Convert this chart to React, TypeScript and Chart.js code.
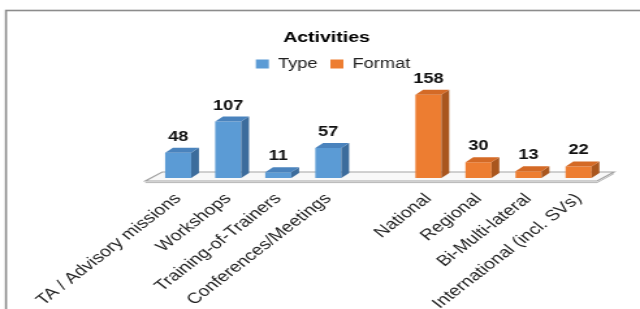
import React, { useEffect, useRef } from 'react';
import { Chart, registerables } from 'chart.js';

Chart.register(...registerables);

const chartTitle = 'Activities';
const seriesNames = ['Type', 'Format'];
const categories = [
  'TA / Advisory missions',
  'Workshops',
  'Training-of-Trainers',
  'Conferences/Meetings',
  '',
  'National',
  'Regional',
  'Bi-Multi-lateral',
  'International (incl. SVs)',
];
const typeValues = [48, 107, 11, 57, null, null, null, null, null];
const formatValues = [null, null, null, null, null, 158, 30, 13, 22];

const FONT = '"Liberation Sans", Arial, sans-serif';
const STRETCH = 1.3;
const W = 640;
const H = 309;
const IW = Math.round(W / STRETCH);
const DX = 6;
const DY = 5;

const shades = [
  { front: '#5B9BD5', top: '#4A83BD', side: '#3C6C9C' },
  { front: '#ED7D31', top: '#D46A26', side: '#A9561E' },
];

const framePlugin = {
  id: 'frame',
  afterLayout(chart: any) {
    if (chart.legend) {
      chart.legend.left += 5;
      chart.legend.right += 5;
    }
  },
  beforeDraw(chart: any) {
    const ctx = chart.ctx;
    ctx.save();
    ctx.fillStyle = '#ffffff';
    ctx.fillRect(0, 0, chart.width, chart.height);
    ctx.strokeStyle = '#8c8c8c';
    ctx.lineWidth = 1.6;
    ctx.strokeRect(4.6, 10.5, chart.width + 20, chart.height + 20);
    ctx.restore();
  },
};

const floorPlugin = {
  id: 'floor3d',
  beforeDatasetsDraw(chart: any) {
    const { ctx, chartArea: a, scales } = chart;
    const base = scales.y.getPixelForValue(0);
    ctx.save();
    ctx.beginPath();
    ctx.moveTo(a.left - 6, base + 3);
    ctx.lineTo(a.right - 5, base + 3);
    ctx.lineTo(a.right + 8, base - 6);
    ctx.lineTo(a.left + 7, base - 6);
    ctx.closePath();
    ctx.fillStyle = '#f8f8f8';
    ctx.fill();
    ctx.strokeStyle = '#a3a3a3';
    ctx.lineWidth = 1.2;
    ctx.stroke();
    ctx.beginPath();
    ctx.moveTo(a.left - 6, base + 4.6);
    ctx.lineTo(a.right - 5, base + 4.6);
    ctx.lineTo(a.right + 8, base - 4.4);
    ctx.strokeStyle = '#b5b5b5';
    ctx.lineWidth = 1;
    ctx.stroke();
    ctx.restore();
  },
};

const bar3dPlugin = {
  id: 'bar3d',
  afterDatasetsDraw(chart: any) {
    const ctx = chart.ctx;
    ctx.save();
    chart.data.datasets.forEach((ds: any, di: number) => {
      const meta = chart.getDatasetMeta(di);
      const c = shades[di];
      meta.data.forEach((el: any, i: number) => {
        const v = ds.data[i];
        if (v === null || v === undefined) return;
        const { x, y, base, width } = el.getProps(['x', 'y', 'base', 'width'], true);
        const l = x - width / 2;
        const r = x + width / 2;
        ctx.fillStyle = c.side;
        ctx.beginPath();
        ctx.moveTo(r, y);
        ctx.lineTo(r + DX, y - DY);
        ctx.lineTo(r + DX, base - DY);
        ctx.lineTo(r, base);
        ctx.closePath();
        ctx.fill();
        ctx.fillStyle = c.top;
        ctx.beginPath();
        ctx.moveTo(l, y);
        ctx.lineTo(l + DX, y - DY);
        ctx.lineTo(r + DX, y - DY);
        ctx.lineTo(r, y);
        ctx.closePath();
        ctx.fill();
        ctx.fillStyle = '#111111';
        ctx.font = `bold 14px ${FONT}`;
        ctx.textAlign = 'center';
        ctx.textBaseline = 'alphabetic';
        ctx.fillText(String(v), x, y - DY - 7);
      });
    });
    ctx.restore();
  },
};

export default function App() {
  const ref = useRef<HTMLCanvasElement | null>(null);

  useEffect(() => {
    document.body.style.margin = '0';
    const canvas = ref.current;
    if (!canvas) return;
    const chart = new Chart(canvas, {
      type: 'bar',
      data: {
        labels: categories,
        datasets: [
          {
            label: seriesNames[0],
            data: typeValues,
            backgroundColor: shades[0].front,
            borderWidth: 0,
            grouped: false,
            barPercentage: 0.52,
            categoryPercentage: 1,
          },
          {
            label: seriesNames[1],
            data: formatValues,
            backgroundColor: shades[1].front,
            borderWidth: 0,
            grouped: false,
            barPercentage: 0.52,
            categoryPercentage: 1,
          },
        ],
      } as any,
      options: {
        responsive: false,
        animation: false,
        devicePixelRatio: 1,
        font: { family: FONT },
        layout: { padding: { left: 10, right: 0, top: 10, bottom: 0 } },
        plugins: {
          title: {
            display: true,
            text: chartTitle,
            color: '#000000',
            font: { family: FONT, size: 15, weight: 'bold' },
            padding: { top: 19, bottom: 0 },
          },
          legend: {
            display: true,
            position: 'top',
            labels: {
              boxWidth: 10,
              boxHeight: 9,
              padding: 10,
              color: '#222222',
              font: { family: FONT, size: 14 },
            },
          },
          tooltip: { enabled: false },
        },
        scales: {
          x: {
            grid: { display: false, drawTicks: false },
            border: { display: false },
            ticks: {
              autoSkip: false,
              minRotation: 45,
              maxRotation: 45,
              padding: 12,
              color: '#222222',
              font: { family: FONT, size: 15 },
            },
            afterFit: (s: any) => {
              s.height = 131;
            },
          },
          y: {
            min: 0,
            max: 184,
            ticks: { display: false },
            grid: { display: false, drawTicks: false },
            border: { display: false },
            afterFit: (s: any) => {
              s.width = 107.7;
            },
          },
          y2: {
            position: 'right',
            min: 0,
            max: 1,
            ticks: { display: false },
            grid: { display: false, drawTicks: false },
            border: { display: false },
            afterFit: (s: any) => {
              s.width = 28;
            },
          },
        },
      } as any,
      plugins: [framePlugin, floorPlugin, bar3dPlugin],
    });
    return () => chart.destroy();
  }, []);

  return (
    <canvas
      ref={ref}
      width={IW}
      height={H}
      style={{ width: `${W}px`, height: `${H}px`, display: 'block' }}
    />
  );
}
